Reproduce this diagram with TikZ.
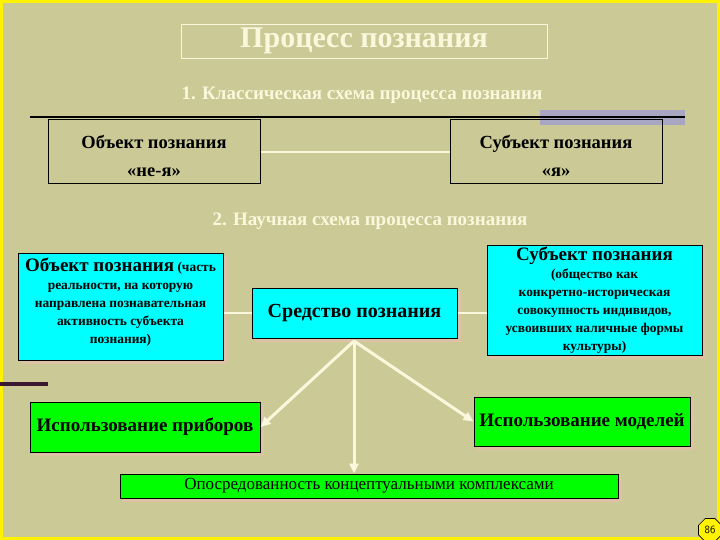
\documentclass[tikz,border=0pt]{standalone}
\usepackage{fontspec}
\setmainfont{Liberation Serif}
\usetikzlibrary{arrows.meta,shapes.geometric}
\definecolor{bg}{HTML}{CBCA96}
\definecolor{cream}{HTML}{FAF8DC}
\definecolor{lav}{HTML}{A9A6C4}
\definecolor{shad}{HTML}{DEC2A6}
\definecolor{purp}{HTML}{3A1830}
\definecolor{cyanbox}{HTML}{00FFFF}
\definecolor{greenbox}{HTML}{00FF00}
\pgfdeclarelayer{back}
\pgfdeclarelayer{shadowlayer}
\pgfsetlayers{back,shadowlayer,main}
\tikzset{
  box/.style={draw=black, line width=1pt, inner sep=0pt, align=center, font=\bfseries\fontsize{18.5}{28}\selectfont},
  cbox/.style={box, fill=cyanbox},
  gbox/.style={box, fill=greenbox},
  shadowfill/.style={fill=shad},
  link/.style={draw=cream, line width=1.5pt},
  arr/.style={draw=cream, line width=3pt, -{Triangle[length=10pt,width=9pt]}},
  head/.style={text=cream, font=\bfseries\fontsize{19}{22}\selectfont},
  small/.style={font=\bfseries\fontsize{13.4}{18}\selectfont}
}
\newcommand{\boxshadow}[1]{\begin{pgfonlayer}{shadowlayer}\fill[shadowfill] ([shift={(3,3)}]#1.north west) rectangle ([shift={(3,3)}]#1.south east);\end{pgfonlayer}}
\begin{document}
\begin{tikzpicture}[x=1pt,y=-1pt]
\useasboundingbox (0,0) rectangle (720,540);
\begin{pgfonlayer}{back}
\fill[bg] (0,0) rectangle (720,540);
\draw[yellow, line width=3pt] (1.5,1.5) rectangle (718.5,538.5);
\end{pgfonlayer}
% title
\node[draw=cream, line width=0.8pt, minimum width=366pt, minimum height=34pt, inner sep=0pt, text=cream, font=\bfseries\fontsize{30}{32}\selectfont] (title) at (364,41) {Процесс познания};
\node[head] (sub1) at (362,95) {1. Классическая схема процесса познания};
\fill[lav] (540,110) rectangle (685,125);
\draw[black, line width=2.5pt] (30,117) -- (685,117);
% classic scheme
\node[box, minimum width=212pt, minimum height=64pt] (objA) at (154,152) {};
\node[box, draw=none] (objAt) at (154,156) {Объект познания\\«не-я»};
\node[box, minimum width=212pt, minimum height=64pt] (subA) at (556,152) {};
\node[box, draw=none] (subAt) at (556,156) {Субъект познания\\«я»};
\draw[link] (objA.east) -- (subA.west);
% scientific scheme
\node[head] (sub2) at (370,221) {2. Научная схема процесса познания};
\node[cbox, minimum width=205pt, minimum height=107pt] (objB) at (120.5,306.5) {};
\node[small, align=center] (objBt) at (120.5,302) {{\fontsize{19}{18}\selectfont Объект познания} (часть\\реальности, на которую\\направлена познавательная\\активность субъекта\\познания)};
\node[cbox, minimum width=205pt, minimum height=50pt, font=\bfseries\fontsize{20}{22}\selectfont] (mid) at (354.5,313) {Средство познания};
\node[cbox, minimum width=215pt, minimum height=110pt] (subB) at (594.5,300) {};
\node[small, align=center] (subBt) at (subB.center) {{\fontsize{19}{18}\selectfont Субъект познания}\\(общество как\\конкретно-историческая\\совокупность индивидов,\\усвоивших наличные формы\\культуры)};
\draw[link] (objB.east |- mid.west) -- (mid.west);
\draw[link] (mid.east) -- (subB.west |- mid.east);
% bottom
\draw[purp, line width=4pt] (0,384) -- (48,384);
\node[gbox, minimum width=230pt, minimum height=50pt, font=\bfseries\fontsize{19}{22}\selectfont] (tools) at (145,427) {Использование приборов};
\node[gbox, minimum width=216pt, minimum height=49pt, font=\bfseries\fontsize{19}{22}\selectfont] (models) at (582,421.5) {Использование моделей};
\node[gbox, minimum width=498pt, minimum height=24pt, font=\fontsize{17}{18}\selectfont] (concept) at (369,486) {Опосредованность концептуальными комплексами};
\boxshadow{objB}
\boxshadow{mid}
\boxshadow{subB}
\boxshadow{tools}
\boxshadow{models}
\boxshadow{concept}
\coordinate (src) at (354,341);
\draw[arr] (src) -- (tools.east);
\draw[arr] (src) -- (src |- concept.north) ;
\draw[arr] (src) -- (models.west);
% page badge
\node[regular polygon, regular polygon sides=8, draw=black, fill=yellow, line width=0.6pt, minimum size=25pt, inner sep=0pt, font=\sffamily\fontsize{11}{12}\selectfont] (badge) at (710,530) {86};
\end{tikzpicture}
\end{document}
